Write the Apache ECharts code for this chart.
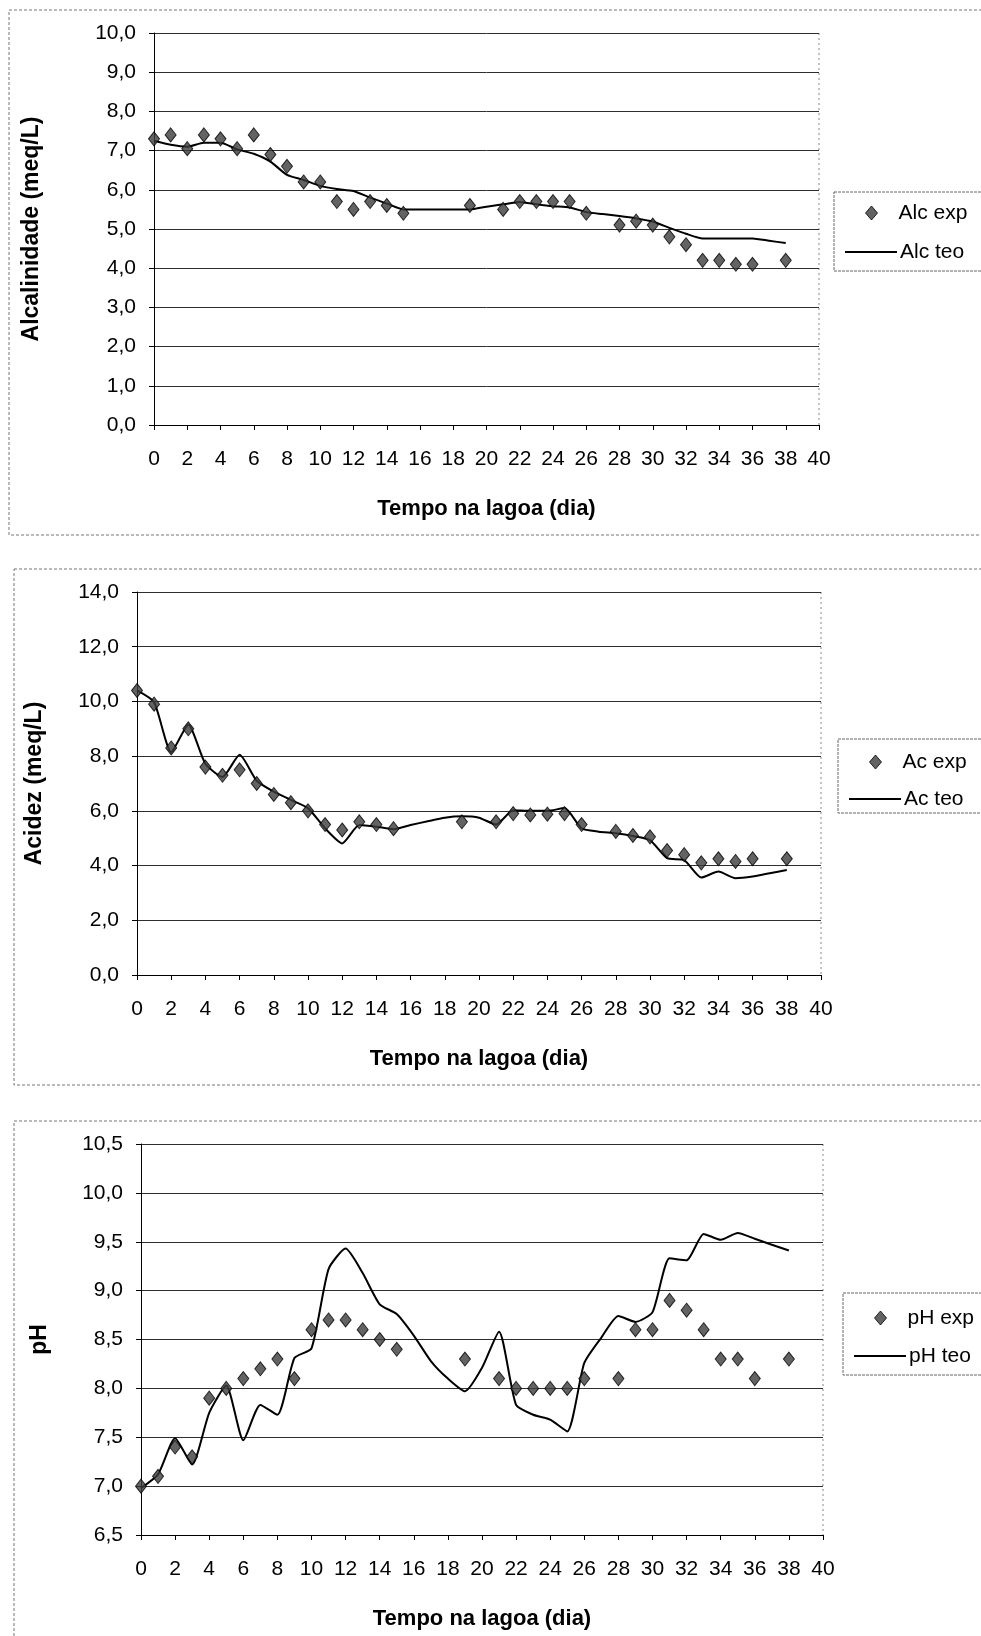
<!DOCTYPE html>
<html>
<head>
<meta charset="utf-8">
<script src="https://cdn.jsdelivr.net/npm/echarts@6/dist/echarts.min.js"></script>
<style>
  html, body { margin: 0; padding: 0; background: #fff; }
  #chart { width: 981px; height: 1636px; }
</style>
</head>
<body>
<div id="chart"></div>
<script>
// Sampling days of the measured values (days with lab data)
const expDays = [0, 1, 2, 3, 4, 5, 6, 7, 8, 9, 10, 11, 12, 13, 14, 15, 19,
                 21, 22, 23, 24, 25, 26, 28, 29, 30, 31, 32, 33, 34, 35, 36, 38];
// Days of the model output
const teoDays = [0, 1, 2, 3, 4, 5, 6, 7, 8, 9, 10, 11, 12, 13, 14, 15, 16, 17, 18, 19,
                 20, 21, 22, 23, 24, 25, 26, 27, 28, 29, 30, 31, 32, 33, 34, 35, 36, 37, 38];

// Alcalinidade (meq/L)
const alcExp = [7.3, 7.4, 7.05, 7.4, 7.3, 7.05, 7.4, 6.9, 6.6, 6.2, 6.2, 5.7, 5.5, 5.7, 5.6, 5.4,
                5.6, 5.5, 5.7, 5.7, 5.7, 5.7, 5.4, 5.1, 5.2, 5.1, 4.8, 4.6, 4.2, 4.2, 4.1, 4.1, 4.2];
const alcTeo = [7.25, 7.15, 7.1, 7.2, 7.2, 7.03, 6.92, 6.72, 6.38, 6.25, 6.1, 6.02, 5.97, 5.8, 5.65,
                5.5, 5.5, 5.5, 5.5, 5.5, 5.57, 5.63, 5.69, 5.63, 5.58, 5.55, 5.43, 5.38, 5.33, 5.27,
                5.19, 5.03, 4.88, 4.76, 4.76, 4.76, 4.76, 4.7, 4.64];

// Acidez (meq/L)
const acExp = [10.4, 9.9, 8.3, 9.0, 7.6, 7.3, 7.5, 7.0, 6.6, 6.3, 6.0, 5.5, 5.3, 5.6, 5.5, 5.35,
               5.6, 5.6, 5.9, 5.85, 5.88, 5.9, 5.5, 5.25, 5.1, 5.05, 4.55, 4.4, 4.1, 4.25, 4.15, 4.25, 4.25];
const acTeo = [10.4, 9.97, 8.15, 9.15, 7.72, 7.24, 8.05, 7.1, 6.7, 6.4, 6.1, 5.36, 4.81, 5.48, 5.42,
               5.33, 5.48, 5.62, 5.75, 5.8, 5.75, 5.5, 6.02, 6.0, 6.0, 6.1, 5.36, 5.24, 5.18, 5.08,
               4.93, 4.27, 4.2, 3.56, 3.78, 3.54, 3.6, 3.72, 3.84];

// pH
const phExp = [7.0, 7.1, 7.4, 7.3, 7.9, 8.0, 8.1, 8.2, 8.3, 8.1, 8.6, 8.7, 8.7, 8.6, 8.5, 8.4,
               8.3, 8.1, 8.0, 8.0, 8.0, 8.0, 8.1, 8.1, 8.6, 8.6, 8.9, 8.8, 8.6, 8.3, 8.3, 8.1, 8.3];
const phTeo = [6.98, 7.12, 7.49, 7.22, 7.75, 8.03, 7.47, 7.83, 7.73, 8.31, 8.41, 9.22, 9.43, 9.18,
               8.86, 8.76, 8.54, 8.28, 8.1, 7.97, 8.21, 8.58, 7.83, 7.73, 7.68, 7.56, 8.26, 8.52,
               8.74, 8.68, 8.78, 9.33, 9.31, 9.58, 9.52, 9.59, 9.53, 9.47, 9.41];

// Tick labels
const xTicks = ['0', '2', '4', '6', '8', '10', '12', '14', '16', '18', '20', '22', '24', '26', '28',
                '30', '32', '34', '36', '38', '40'];
const alcTicks = ['0,0', '1,0', '2,0', '3,0', '4,0', '5,0', '6,0', '7,0', '8,0', '9,0', '10,0'];
const acTicks = ['0,0', '2,0', '4,0', '6,0', '8,0', '10,0', '12,0', '14,0'];
const phTicks = ['6,5', '7,0', '7,5', '8,0', '8,5', '9,0', '9,5', '10,0', '10,5'];

const FONT = "'Liberation Sans', Arial, sans-serif";
const MARKER_FILL = '#3c3c3c';

// Panel layout: plot rectangle, outer frame, legend box (row centres relative to box top)
const panels = [
  {
    yName: 'Alcalinidade (meq/L)', ticks: alcTicks, min: 0, max: 10, step: 1,
    exp: alcExp, teo: alcTeo, names: ['Alc exp', 'Alc teo'],
    grid: { left: 154, top: 33, width: 665, height: 392 }, yNameGap: 111,
    frame: { x: 9, y: 10, h: 525 }, legend: { x: 834, y: 192, h: 79, r1: 21, r2: 60 }
  },
  {
    yName: 'Acidez (meq/L)', ticks: acTicks, min: 0, max: 14, step: 2,
    exp: acExp, teo: acTeo, names: ['Ac exp', 'Ac teo'],
    grid: { left: 137, top: 592, width: 684, height: 383 }, yNameGap: 91,
    frame: { x: 14, y: 569, h: 516 }, legend: { x: 838, y: 739, h: 74, r1: 23, r2: 60 }
  },
  {
    yName: 'pH', ticks: phTicks, min: 6.5, max: 10.5, step: 0.5,
    exp: phExp, teo: phTeo, names: ['pH exp', 'pH teo'],
    grid: { left: 141, top: 1144, width: 682, height: 391 }, yNameGap: 90,
    frame: { x: 14, y: 1121, h: 540 }, legend: { x: 843, y: 1293, h: 82, r1: 25, r2: 63 }
  }
];

const grids = [], xAxes = [], yAxes = [], series = [], legends = [], graphics = [];
const legendText = { fontFamily: FONT, fontSize: 21, color: '#000', lineHeight: 24 };

panels.forEach((p, i) => {
  grids.push(Object.assign({ containLabel: false, show: false }, p.grid));

  xAxes.push({
    type: 'value', gridIndex: i, min: 0, max: 40, interval: 2,
    name: 'Tempo na lagoa (dia)', nameLocation: 'middle', nameGap: 73, nameMoveOverlap: false,
    nameTextStyle: { fontFamily: FONT, fontSize: 22, fontWeight: 'bold', color: '#000' },
    axisLine: { show: true, onZero: false, lineStyle: { color: '#000', width: 1 } },
    axisTick: { show: true, length: 5, lineStyle: { color: '#000' } },
    axisLabel: {
      fontFamily: FONT, fontSize: 21, color: '#000', margin: 24,
      formatter: v => xTicks[Math.round(v / 2)]
    },
    splitLine: { show: false }
  });

  yAxes.push({
    type: 'value', gridIndex: i, min: p.min, max: p.max, interval: p.step,
    name: p.yName, nameLocation: 'middle', nameRotate: 90, nameGap: p.yNameGap, nameMoveOverlap: false,
    nameTextStyle: { fontFamily: FONT, fontSize: 23, fontWeight: 'bold', color: '#000' },
    axisLine: { show: true, onZero: false, lineStyle: { color: '#000', width: 1 } },
    axisTick: { show: true, length: 5, lineStyle: { color: '#000' } },
    axisLabel: {
      fontFamily: FONT, fontSize: 21, color: '#000', margin: 18,
      formatter: v => p.ticks[Math.round((v - p.min) / p.step)]
    },
    splitLine: { show: true, lineStyle: { color: '#2e2e2e', width: 1 } }
  });

  series.push({
    name: p.names[1], type: 'line', xAxisIndex: i, yAxisIndex: i,
    data: teoDays.map((d, k) => [d, p.teo[k]]),
    symbol: 'none', smooth: 0.2,
    lineStyle: { color: '#000', width: 2 },
    itemStyle: { color: '#000' },
    z: 2
  });
  series.push({
    name: p.names[0], type: 'scatter', xAxisIndex: i, yAxisIndex: i,
    data: expDays.map((d, k) => [d, p.exp[k]]),
    symbol: 'diamond', symbolSize: [11, 14],
    itemStyle: { color: MARKER_FILL, borderColor: '#000', borderWidth: 1 },
    z: 3
  });

  const L = p.legend;
  // Measured-values entry: small diamond, text aligned with the line entry below
  legends.push({
    orient: 'vertical', left: L.x + 31, top: L.y + L.r1 - 12, padding: 0,
    data: [{ name: p.names[0], icon: 'diamond',
             itemStyle: { color: MARKER_FILL, borderColor: '#000', borderWidth: 1 } }],
    itemWidth: 12, itemHeight: 14,
    textStyle: Object.assign({ padding: [0, 0, 0, 16] }, legendText),
    selectedMode: false
  });
  // Model entry: plain line sample
  legends.push({
    orient: 'vertical', left: L.x + 11, top: L.y + L.r2 - 12, padding: 0,
    data: [{ name: p.names[1], icon: 'path://M0,0h52v2h-52z',
             itemStyle: { color: '#000', borderWidth: 0 } }],
    itemWidth: 52, itemHeight: 2,
    textStyle: Object.assign({ padding: [0, 0, 0, -2] }, legendText),
    selectedMode: false
  });

  // Outer chart-area frame (runs off the right edge)
  graphics.push({
    type: 'rect', silent: true,
    shape: { x: p.frame.x, y: p.frame.y, width: 1100, height: p.frame.h },
    style: { fill: 'none', stroke: '#777', lineWidth: 1, lineDash: [3, 2] }
  });
  // Legend box
  graphics.push({
    type: 'rect', silent: true,
    shape: { x: L.x, y: L.y, width: 200, height: L.h },
    style: { fill: 'none', stroke: '#666', lineWidth: 1, lineDash: [3, 1] }
  });
  // Plot-area border on the right side
  const gx = p.grid.left + p.grid.width;
  graphics.push({
    type: 'line', silent: true,
    shape: { x1: gx, y1: p.grid.top, x2: gx, y2: p.grid.top + p.grid.height },
    style: { stroke: '#888', lineWidth: 1, lineDash: [2, 3] }
  });
});

const chart = echarts.init(document.getElementById('chart'), null, { renderer: 'canvas' });
chart.setOption({
  backgroundColor: '#fff',
  animation: false,
  textStyle: { fontFamily: FONT },
  grid: grids,
  xAxis: xAxes,
  yAxis: yAxes,
  legend: legends,
  series: series,
  graphic: graphics
});
</script>
</body>
</html>
